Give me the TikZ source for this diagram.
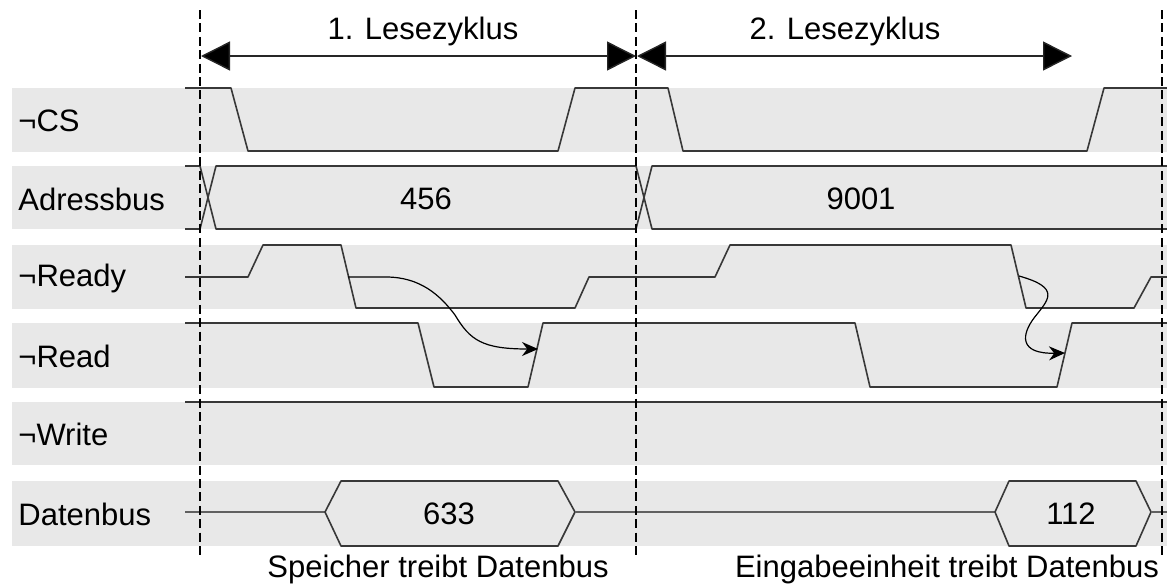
\documentclass[tikz,border=0pt]{standalone}
\usepackage{fontspec}
\setmainfont{Liberation Sans}
\usetikzlibrary{arrows.meta}
\definecolor{bandgray}{HTML}{E8E8E8}
\definecolor{siggray}{HTML}{383838}
\begin{document}
\begin{tikzpicture}[x=0.5pt,y=-0.5pt,
  band/.style={fill=bandgray,draw=none},
  sig/.style={draw=siggray,line width=0.8pt,line join=round},
  bus/.style={draw=siggray!80,line width=0.8pt},
  lbl/.style={anchor=west,inner sep=0pt,font=\fontsize{15.5pt}{18pt}\selectfont},
  txt/.style={inner sep=0pt,font=\fontsize{15.5pt}{18pt}\selectfont},
  marker/.style={draw=black,line width=1pt,dash pattern=on 4.5pt off 2.2pt},
  cyc/.style={draw=black!85,line width=0.7pt,
    {Triangle[length=14.5pt,width=14.5pt,fill=black]}-{Triangle[length=14.5pt,width=14.5pt,fill=black]}},
  cause/.style={draw=black,line width=0.6pt,-{Stealth[length=8pt,width=7pt]}}]

\useasboundingbox (0,0) rectangle (1167,584);

% signal rows
\fill[band] (12,88)  rectangle (1167,152);
\fill[band] (12,166) rectangle (1167,229);
\fill[band] (12,245) rectangle (1167,309);
\fill[band] (12,323) rectangle (1167,388);
\fill[band] (12,402) rectangle (1167,465);
\fill[band] (12,481) rectangle (1167,546);

% row labels
\node[lbl] (lcs)    at (18,121) {¬CS};
\node[lbl] (laddr)  at (18,199) {Adressbus};
\node[lbl] (lready) at (18,278) {¬Ready};
\node[lbl] (lread)  at (18,356) {¬Read};
\node[lbl] (lwrite) at (18,434) {¬Write};
\node[lbl] (ldata)  at (18,514) {Datenbus};

% cycle boundaries
\coordinate (m1t) at (200,10);  \coordinate (m1b) at (200,557);
\coordinate (m2t) at (636,10);  \coordinate (m2b) at (636,557);
\coordinate (m3t) at (1162,10); \coordinate (m3b) at (1162,557);

% chip select
\draw[sig] (185,88) -- (231,88) -- (248,151) -- (558,151) -- (575,88) -- (668,88)
  -- (683,151) -- (1087,151) -- (1104,88) -- (1167,88);

% address bus
\draw[sig] (185,166) -- (200,166) -- (216,229) -- (636,229) -- (652,166) -- (1167,166);
\draw[sig] (185,229) -- (200,229) -- (216,166) -- (636,166) -- (652,229) -- (1167,229);
\node[txt] (a1) at (426,199) {456};
\node[txt] (a2) at (861,199) {9001};

% ready
\draw[sig] (185,277) -- (248,277) -- (263,245) -- (341,245) -- (356,308) -- (575,308)
  -- (589,277) -- (715,277) -- (730,245) -- (1011,245) -- (1026,308) -- (1134,308)
  -- (1151,277) -- (1167,277);

% read
\draw[sig] (185,323) -- (418,323) -- (434,387) -- (528,387) -- (543,323) -- (855,323)
  -- (870,387) -- (1057,387) -- (1072,323) -- (1167,323);

% write
\draw[sig] (185,402) -- (1167,402);

% data bus
\draw[bus] (185,512) -- (325,512);
\draw[sig] (325,512) -- (341,481) -- (558,481) -- (575,512) -- (558,546) -- (341,546) -- cycle;
\draw[bus] (575,512) -- (995,512);
\draw[sig] (995,512) -- (1009,481) -- (1136,481) -- (1151,512) -- (1136,546) -- (1009,546) -- cycle;
\draw[bus] (1151,512) -- (1167,512);
\node[txt] (d1) at (449,514) {633};
\node[txt] (d2) at (1071,514) {112};

% dependencies ready -> read
\coordinate (r1a) at (348,277); \coordinate (r1b) at (538,349);
\coordinate (r2a) at (1019,276); \coordinate (r2b) at (1065,353);
\draw[cause] (r1a) -- (386,277) .. controls (420,277) and (440,295) .. (455,315)
  .. controls (470,340) and (482,349) .. (r1b);
\draw[cause] (r2a) .. controls (1062,288) and (1048,300) .. (1034,318)
  .. controls (1022,334) and (1018,354) .. (r2b);

% dashed cycle boundaries
\draw[marker] (m1t) -- (m1b);
\draw[marker] (m2t) -- (m2b);
\draw[marker] (m3t) -- (m3b);

% cycle arrows
\coordinate (c1a) at (201,56); \coordinate (c1b) at (636,56);
\coordinate (c2a) at (637,56); \coordinate (c2b) at (1072,56);
\draw[cyc] (c1a) -- (c1b);
\draw[cyc] (c2a) -- (c2b);
\node[txt] (t1) at (423,31) {1. Lesezyklus};
\node[txt] (t2) at (845,31) {2. Lesezyklus};

% bus drivers
\node[txt] (s1) at (438,569) {Speicher treibt Datenbus};
\node[txt] (s2) at (947,569) {Eingabeeinheit treibt Datenbus};
\end{tikzpicture}
\end{document}
